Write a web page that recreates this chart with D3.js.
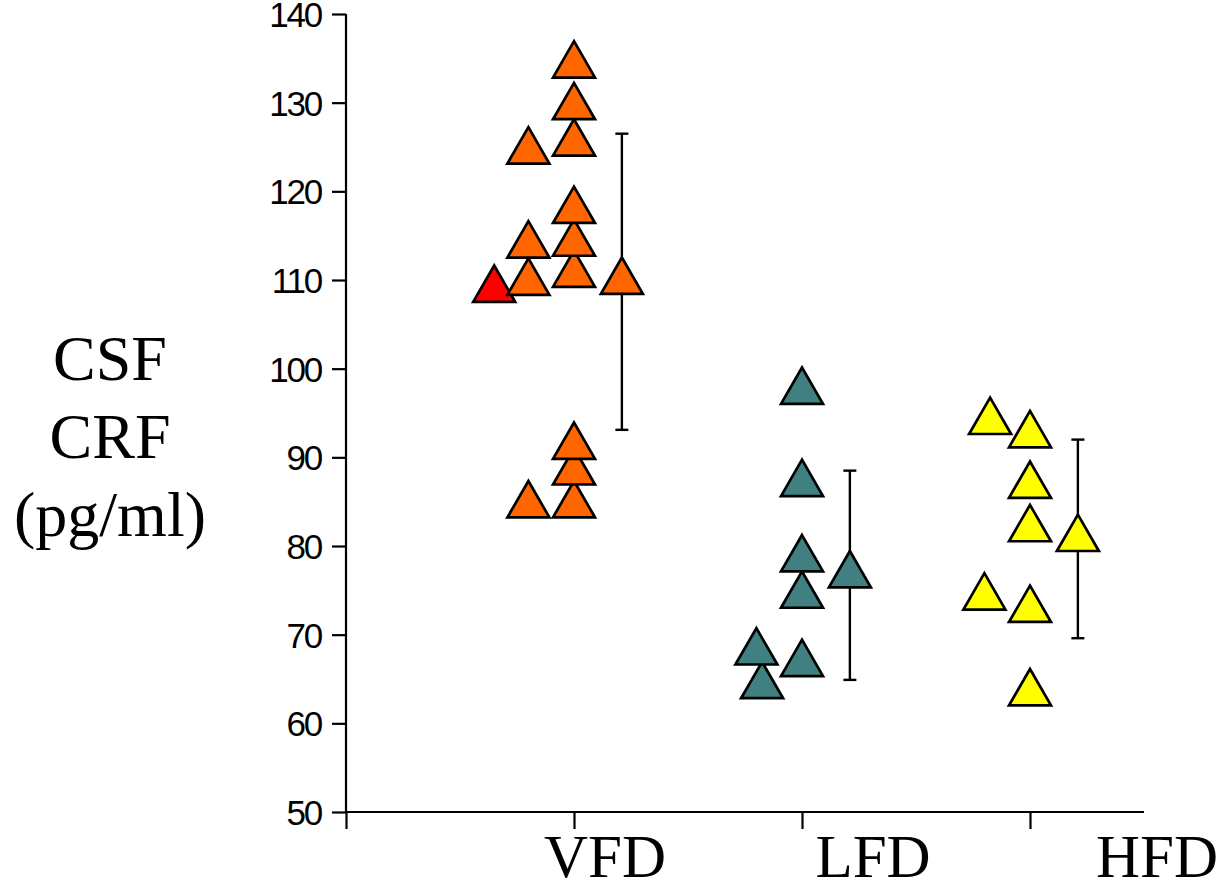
<!DOCTYPE html>
<html>
<head>
<meta charset="utf-8">
<script src="https://cdn.jsdelivr.net/npm/d3@7"></script>
<style>
    body { margin: 0; background: #fff; }
    .tick text { font-family: "Liberation Sans", Arial, sans-serif; }
</style>
</head>
<body>
<div class="container"></div>
<script>
// categories and tick labels
let groups = ['VFD', 'LFD', 'HFD']
let yTicks = [50, 60, 70, 80, 90, 100, 110, 120, 130, 140]
let yLabelLines = ['CSF', 'CRF', '(pg/ml)']

// individual values, with the column each triangle sits in (offset in category widths)
let vfdValues = [134.2, 129.5, 125.4, 117.8, 114.1, 110.6, 91.2, 88.3, 84.6, 124.5, 113.9, 109.7, 84.6, 108.9]
let vfdCols = [0, 0, 0, 0, 0, 0, 0, 0, 0, -0.2, -0.2, -0.2, -0.2, -0.35]
let lfdValues = [97.4, 87.0, 78.5, 74.4, 66.7, 68.0, 64.2]
let lfdCols = [0, 0, 0, 0, 0, -0.2, -0.175]
let hfdValues = [92.5, 86.8, 81.9, 72.8, 63.4, 94.0, 74.2]
let hfdCols = [0, 0, 0, 0, 0, -0.175, -0.2]

// group mean and SD
let means = [109.8, 76.7, 80.8]
let sds = [16.7, 11.8, 11.2]
let meanCol = 0.21

let colors = ['#FF6600', '#408080', '#FFFF00']
let highlight = '#FF0000'

let width = 1223
let height = 883

let svg = d3.select('.container')
    .append('svg')
    .attr('width', width)
    .attr('height', height)
    .style('overflow', 'visible')

let x = d3.scaleLinear().domain([0, 3.5]).range([346, 1144])
let y = d3.scaleLinear().domain([50, 140]).range([812, 14])

// y axis
let yAxis = d3.axisLeft(y)
    .tickValues(yTicks)
    .tickSize(14)
    .tickSizeOuter(0)
    .tickPadding(11)

let gy = svg.append('g')
    .attr('transform', `translate(${x(0)},0)`)
    .call(yAxis)
gy.select('.domain').remove()
gy.selectAll('.tick line').attr('stroke', '#000').attr('stroke-width', 2.2)
gy.selectAll('.tick text')
    .attr('font-size', 35)
    .attr('letter-spacing', -2.2)
    .attr('fill', '#000')
    .attr('dy', '0.36em')

// x axis
let xAxis = d3.axisBottom(x)
    .tickValues([0, 1, 2, 3])
    .tickSize(17)
    .tickSizeOuter(0)
    .tickFormat('')

let gx = svg.append('g')
    .attr('transform', `translate(0,${y(50)})`)
    .call(xAxis)
gx.select('.domain').remove()
gx.selectAll('.tick line').attr('stroke', '#000').attr('stroke-width', 2.2)

// axis lines
svg.append('line')
    .attr('x1', x(0)).attr('x2', x(0))
    .attr('y1', y(140)).attr('y2', y(50))
    .attr('stroke', '#000').attr('stroke-width', 2.2)
svg.append('line')
    .attr('x1', x(0)).attr('x2', x(3.5))
    .attr('y1', y(50)).attr('y2', y(50))
    .attr('stroke', '#000').attr('stroke-width', 2.2)

// category labels (set a little right of their ticks, as in the original)
let labelX = d3.scaleOrdinal().domain(groups).range([605, 873, 1157])
svg.selectAll('.cat')
    .data(groups)
    .enter()
    .append('text')
    .attr('class', 'cat')
    .attr('x', d => labelX(d))
    .attr('y', 877)
    .attr('text-anchor', 'middle')
    .attr('font-family', '"Liberation Serif", "Times New Roman", serif')
    .attr('font-size', 61)
    .text(d => d)

// y label
svg.append('text')
    .attr('text-anchor', 'middle')
    .attr('font-family', '"Liberation Serif", "Times New Roman", serif')
    .attr('font-size', 64)
    .selectAll('tspan')
    .data(yLabelLines)
    .enter()
    .append('tspan')
    .attr('x', 110)
    .attr('y', (d, i) => 380 + i * 78)
    .text(d => d)

// points
let tri = d3.symbol().type(d3.symbolTriangle).size(763)

let points = []
vfdValues.forEach((v, i) => points.push({ g: 0, v: v, c: vfdCols[i], red: vfdCols[i] < -0.3 }))
lfdValues.forEach((v, i) => points.push({ g: 1, v: v, c: lfdCols[i] }))
hfdValues.forEach((v, i) => points.push({ g: 2, v: v, c: hfdCols[i] }))

// error bars
let bars = svg.selectAll('.err')
    .data(means)
    .enter()
    .append('g')
    .attr('class', 'err')
    .attr('stroke', '#000')
    .attr('stroke-width', 2.4)

bars.append('line')
    .attr('x1', (d, i) => x(i + 1 + meanCol))
    .attr('x2', (d, i) => x(i + 1 + meanCol))
    .attr('y1', (d, i) => y(d + sds[i]))
    .attr('y2', (d, i) => y(d - sds[i]))
bars.selectAll('.cap')
    .data((d, i) => [{ i: i, v: d + sds[i] }, { i: i, v: d - sds[i] }])
    .enter()
    .append('line')
    .attr('x1', d => x(d.i + 1 + meanCol) - 6.5)
    .attr('x2', d => x(d.i + 1 + meanCol) + 6.5)
    .attr('y1', d => y(d.v))
    .attr('y2', d => y(d.v))

// draw bottom-up so upper triangles overlap lower ones like the original
svg.selectAll('.pt')
    .data(points.slice().sort((a, b) => a.v - b.v))
    .enter()
    .append('path')
    .attr('class', 'pt')
    .attr('d', tri)
    .attr('transform', d => `translate(${x(d.g + 1 + d.c)},${y(d.v)})`)
    .attr('fill', d => d.red ? highlight : colors[d.g])
    .attr('stroke', '#000')
    .attr('stroke-width', 2.7)

svg.selectAll('.mean')
    .data(means)
    .enter()
    .append('path')
    .attr('class', 'mean')
    .attr('d', tri)
    .attr('transform', (d, i) => `translate(${x(i + 1 + meanCol)},${y(d)})`)
    .attr('fill', (d, i) => colors[i])
    .attr('stroke', '#000')
    .attr('stroke-width', 2.7)
</script>
</body>
</html>
